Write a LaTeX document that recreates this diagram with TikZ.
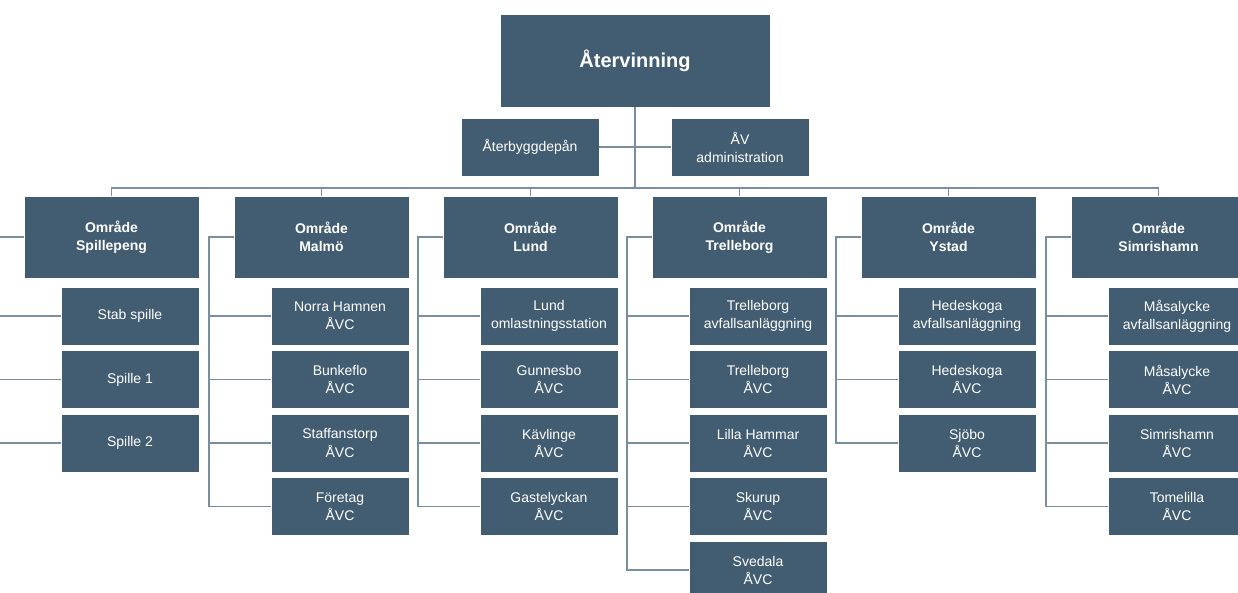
\documentclass[tikz,border=0pt]{standalone}
\usepackage{fontspec}
\setmainfont{Liberation Sans}
\definecolor{boxc}{RGB}{66,93,114}
\definecolor{linec}{RGB}{122,142,160}
\tikzset{
  unit/.style={fill=boxc, draw=white, line width=.6pt, text=white, inner sep=0pt, align=center,
    font=\fontsize{14}{18}\selectfont},
  area/.style={unit, minimum width=175pt, minimum height=82pt, font=\fontsize{14}{18}\selectfont\bfseries},
  sub/.style={unit, minimum width=138pt, minimum height=58pt},
  conn/.style={draw=linec, line width=1.3pt}
}
\begin{document}
\begin{tikzpicture}[x=1pt,y=-1pt]
\useasboundingbox (0,0) rectangle (1238,593);
\clip (0,0) rectangle (1238,593);

% top
\node[unit, minimum width=270pt, minimum height=93pt, font=\fontsize{20}{24}\selectfont\bfseries] (root) at (635,60.5) {Återvinning};
\node[sub] (dep) at (530,147) {Återbyggdepån};
\node[sub] (adm) at (740,147) {ÅV\\administration};
\coordinate (bus) at (635,188);

\draw[conn] (root) -- (bus);
\draw[conn] (dep.east) -- (adm.west);

% areas
\node[area] (a1) at (111.5,237) {Område\\Spillepeng};
\node[area] (a2) at (321.5,237) {Område\\Malmö};
\node[area] (a3) at (530.5,237) {Område\\Lund};
\node[area] (a4) at (739.5,237) {Område\\Trelleborg};
\node[area] (a5) at (948.5,237) {Område\\Ystad};
\node[area] (a6) at (1158.5,237) {Område\\Simrishamn};

\draw[conn] (bus) -| (a1.north);
\draw[conn] (bus) -| (a2.north);
\draw[conn] (bus) -| (a3.north);
\draw[conn] (bus) -| (a4.north);
\draw[conn] (bus) -| (a5.north);
\draw[conn] (bus) -| (a6.north);

% Spillepeng
\node[sub] (sp1) at (130,316) {Stab spille};
\node[sub] (sp2) at (130,379.5) {Spille 1};
\node[sub] (sp3) at (130,443) {Spille 2};
\coordinate (s1) at (-1,237);
\draw[conn] (a1.west) -- (s1) |- (sp3.west);
\draw[conn] (s1) |- (sp1.west);
\draw[conn] (s1) |- (sp2.west);

% Malmö
\node[sub] (ma1) at (340,316) {Norra Hamnen\\ÅVC};
\node[sub] (ma2) at (340,379.5) {Bunkeflo\\ÅVC};
\node[sub] (ma3) at (340,443) {Staffanstorp\\ÅVC};
\node[sub] (ma4) at (340,506.5) {Företag\\ÅVC};
\coordinate (s2) at (209,237);
\draw[conn] (a2.west) -- (s2) |- (ma4.west);
\draw[conn] (s2) |- (ma1.west);
\draw[conn] (s2) |- (ma2.west);
\draw[conn] (s2) |- (ma3.west);

% Lund
\node[sub] (lu1) at (549,316) {Lund\\omlastningsstation};
\node[sub] (lu2) at (549,379.5) {Gunnesbo\\ÅVC};
\node[sub] (lu3) at (549,443) {Kävlinge\\ÅVC};
\node[sub] (lu4) at (549,506.5) {Gastelyckan\\ÅVC};
\coordinate (s3) at (418,237);
\draw[conn] (a3.west) -- (s3) |- (lu4.west);
\draw[conn] (s3) |- (lu1.west);
\draw[conn] (s3) |- (lu2.west);
\draw[conn] (s3) |- (lu3.west);

% Trelleborg
\node[sub] (tr1) at (758,316) {Trelleborg\\avfallsanläggning};
\node[sub] (tr2) at (758,379.5) {Trelleborg\\ÅVC};
\node[sub] (tr3) at (758,443) {Lilla Hammar\\ÅVC};
\node[sub] (tr4) at (758,506.5) {Skurup\\ÅVC};
\node[sub] (tr5) at (758,570) {Svedala\\ÅVC};
\coordinate (s4) at (627,237);
\draw[conn] (a4.west) -- (s4) |- (tr5.west);
\draw[conn] (s4) |- (tr1.west);
\draw[conn] (s4) |- (tr2.west);
\draw[conn] (s4) |- (tr3.west);
\draw[conn] (s4) |- (tr4.west);

% Ystad
\node[sub] (ys1) at (967,316) {Hedeskoga\\avfallsanläggning};
\node[sub] (ys2) at (967,379.5) {Hedeskoga\\ÅVC};
\node[sub] (ys3) at (967,443) {Sjöbo\\ÅVC};
\coordinate (s5) at (836,237);
\draw[conn] (a5.west) -- (s5) |- (ys3.west);
\draw[conn] (s5) |- (ys1.west);
\draw[conn] (s5) |- (ys2.west);

% Simrishamn
\node[sub] (si1) at (1177,316) {Måsalycke\\avfallsanläggning};
\node[sub] (si2) at (1177,379.5) {Måsalycke\\ÅVC};
\node[sub] (si3) at (1177,443) {Simrishamn\\ÅVC};
\node[sub] (si4) at (1177,506.5) {Tomelilla\\ÅVC};
\coordinate (s6) at (1046,237);
\draw[conn] (a6.west) -- (s6) |- (si4.west);
\draw[conn] (s6) |- (si1.west);
\draw[conn] (s6) |- (si2.west);
\draw[conn] (s6) |- (si3.west);

\end{tikzpicture}
\end{document}
